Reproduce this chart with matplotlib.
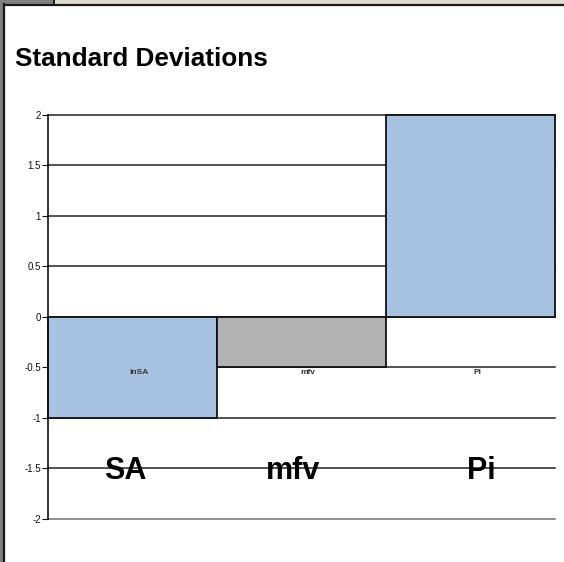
import matplotlib
matplotlib.use("Agg")
import matplotlib.pyplot as plt
from matplotlib.patches import Rectangle
from matplotlib.lines import Line2D

plt.rcParams["font.family"] = ["Liberation Sans", "DejaVu Sans"]

# Standardised deviations per series
series_names = ["lnSA", "mfv", "Pi"]
category_labels = ["SA", "mfv", "Pi"]
std_devs = [-1.0, -0.5, 2.0]
bar_colors = ["#a7c3e1", "#b2b2b2", "#a7c3e1"]
y_ticks = [-2, -1.5, -1, -0.5, 0, 0.5, 1, 1.5, 2]
y_tick_labels = ["-2", "-1.5", "-1", "-0.5", "0", "0.5", "1", "1.5", "2"]

W, H = 564, 562
fig = plt.figure(figsize=(W / 100, H / 100), dpi=100)
fig.patch.set_facecolor("white")

# window frame: grey strip on the left, beige strip across the top
fig.patches.append(Rectangle((0, 0), 3.5 / W, 1, transform=fig.transFigure,
                             facecolor="#808080", edgecolor="none", zorder=0))
fig.patches.append(Rectangle((0, 1 - 4.5 / H), 53 / W, 4.5 / H, transform=fig.transFigure,
                             facecolor="#808080", edgecolor="none", zorder=0))
fig.patches.append(Rectangle((55 / W, 1 - 4.5 / H), 1, 4.5 / H, transform=fig.transFigure,
                             facecolor="#e0ddd0", edgecolor="none", zorder=0))
fig.lines.append(Line2D([4.3 / W, 4.3 / W], [0, 1 - 3.5 / H], transform=fig.transFigure,
                        color="#1a1a1a", lw=1.6))
fig.lines.append(Line2D([3.5 / W, 1], [1 - 5.0 / H, 1 - 5.0 / H], transform=fig.transFigure,
                        color="#1a1a1a", lw=1.6))
fig.lines.append(Line2D([54 / W, 54 / W], [1 - 5 / H, 1], transform=fig.transFigure,
                        color="#1a1a1a", lw=1.4))

fig.text(15 / W, 1 - 59 / H, "Standard Deviations", fontsize=18.8, fontweight="bold",
         ha="left", va="center")

ax = fig.add_axes([47.7 / W, (H - 519) / H, (555.3 - 47.7) / W, (519 - 114.7) / H])
ax.set_facecolor("none")
ax.set_xlim(-0.5, 2.5)
ax.set_ylim(-2, 2)

for y in y_ticks:
    ax.axhline(y, color="#222222" if y != -2 else "#707070", lw=1.1, zorder=1,
               clip_on=False)

x = list(range(len(std_devs)))
ax.bar(x, std_devs, width=1.0, color=bar_colors, edgecolor="#111111", linewidth=1.3,
       zorder=2, clip_on=False)

for xi, name in zip(x, series_names):
    ax.text(xi + 0.04, -0.55, name, fontsize=6, fontweight="bold", color="#333333",
            ha="center", va="center", zorder=3)

label_offsets = [-0.04, -0.05, 0.06]
for xi, lab, off in zip(x, category_labels, label_offsets):
    ax.text(xi + off, -1.53, lab, fontsize=22, fontweight="bold", ha="center",
            va="center", zorder=3)

for s in ["top", "right", "bottom"]:
    ax.spines[s].set_visible(False)
ax.spines["left"].set_color("#111111")
ax.spines["left"].set_linewidth(1.2)
ax.set_xticks([])
ax.set_yticks(y_ticks)
ax.set_yticklabels(y_tick_labels)
ax.tick_params(axis="y", length=4, width=0.8, pad=1, labelsize=7, colors="#111111")

fig.savefig("out.png", dpi=100)
